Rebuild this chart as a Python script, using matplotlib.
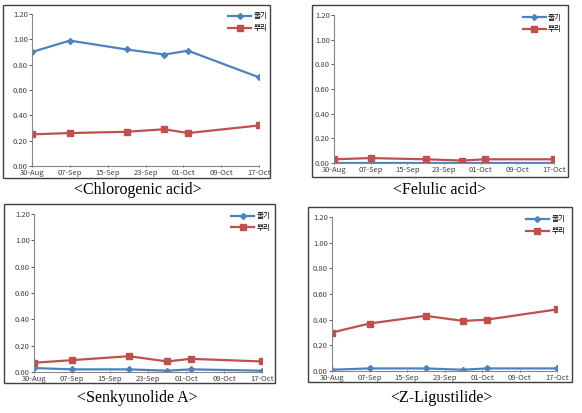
import pandas as pd
import matplotlib
matplotlib.use("Agg")
from matplotlib import pyplot as plt
from matplotlib.patches import Rectangle
from matplotlib.dates import DateFormatter

plt.rcParams["font.family"] = ["Noto Sans CJK KR", "DejaVu Sans"]

dates = pd.to_datetime(["2013-08-30", "2013-09-07", "2013-09-19",
                        "2013-09-27", "2013-10-02", "2013-10-17"])
series_names = ["줄기", "뿌리"]

chlorogenic_stem = [0.90, 0.99, 0.92, 0.88, 0.91, 0.70]
chlorogenic_root = [0.25, 0.26, 0.27, 0.29, 0.26, 0.32]
felulic_stem = [0.00, 0.00, 0.00, 0.00, 0.00, 0.00]
felulic_root = [0.03, 0.04, 0.03, 0.02, 0.03, 0.03]
senkyunolide_stem = [0.03, 0.02, 0.02, 0.01, 0.02, 0.01]
senkyunolide_root = [0.07, 0.09, 0.12, 0.08, 0.10, 0.08]
ligustilide_stem = [0.01, 0.02, 0.02, 0.01, 0.02, 0.02]
ligustilide_root = [0.30, 0.37, 0.43, 0.39, 0.40, 0.48]

captions = ["<Chlorogenic acid>", "<Felulic acid>", "<Senkyunolide A>", "<Z-Ligustilide>"]
panels = [
    (chlorogenic_stem, chlorogenic_root),
    (felulic_stem, felulic_root),
    (senkyunolide_stem, senkyunolide_root),
    (ligustilide_stem, ligustilide_root),
]

W, H = 582, 413
# (box l, t, r, b), (axes l, t, r, b), caption x, caption y  -- in pixels
layout = [
    ((3, 5, 270, 178), (32, 14, 259, 166), 138, 190),
    ((312, 5, 568, 177), (334, 15, 554, 163), 440, 190),
    ((4, 204, 275, 383), (34, 214, 262, 372), 137, 398),
    ((308, 207, 572, 382), (332, 217, 557, 371), 441, 398),
]

BLUE = "#4F81BD"
RED = "#C0504D"
GRAY = "#868686"

fig = plt.figure(figsize=(W / 100, H / 100), dpi=100)

ticks = pd.date_range("2013-08-30", "2013-10-17", freq="8D")

for (stem, root), cap, (box, ax_px, cx, cy) in zip(panels, captions, layout):
    bl, bt, br, bb = box
    fig.patches.append(Rectangle((bl / W, 1 - bb / H), (br - bl) / W, (bb - bt) / H,
                                 transform=fig.transFigure, fill=False,
                                 edgecolor="#404040", linewidth=1.0))
    al, at, ar, ab = ax_px
    ax = fig.add_axes([al / W, 1 - ab / H, (ar - al) / W, (ab - at) / H])
    ax.plot(dates, stem, color=BLUE, marker="D", markersize=3, linewidth=1.6,
            label=series_names[0])
    ax.plot(dates, root, color=RED, marker="s", markersize=4, linewidth=1.6,
            label=series_names[1])
    ax.set_ylim(0, 1.2)
    ax.set_yticks([0, 0.2, 0.4, 0.6, 0.8, 1.0, 1.2])
    ax.yaxis.set_major_formatter(plt.FormatStrFormatter("%.2f"))
    ax.set_xlim(ticks[0], ticks[-1])
    ax.set_xticks(ticks)
    ax.xaxis.set_major_formatter(DateFormatter("%d-%b"))
    for s in ["top", "right"]:
        ax.spines[s].set_visible(False)
    for s in ["left", "bottom"]:
        ax.spines[s].set_color(GRAY)
        ax.spines[s].set_linewidth(0.8)
    ax.tick_params(labelsize=5.5, colors="#404040", length=2, width=0.6, pad=1)
    ax.tick_params(axis="x", length=2, direction="inout", pad=1.5)
    ax.set_facecolor("none")
    ax.legend(loc="upper right", bbox_to_anchor=(1.05, 1.03), fontsize=5.5,
              frameon=False, handlelength=3, handletextpad=0.3,
              labelspacing=0.5, borderaxespad=0)
    fig.text(cx / W, 1 - cy / H, cap, family="Liberation Serif", fontsize=11.5,
             ha="center", va="center")

fig.savefig("out.png", dpi=100)
